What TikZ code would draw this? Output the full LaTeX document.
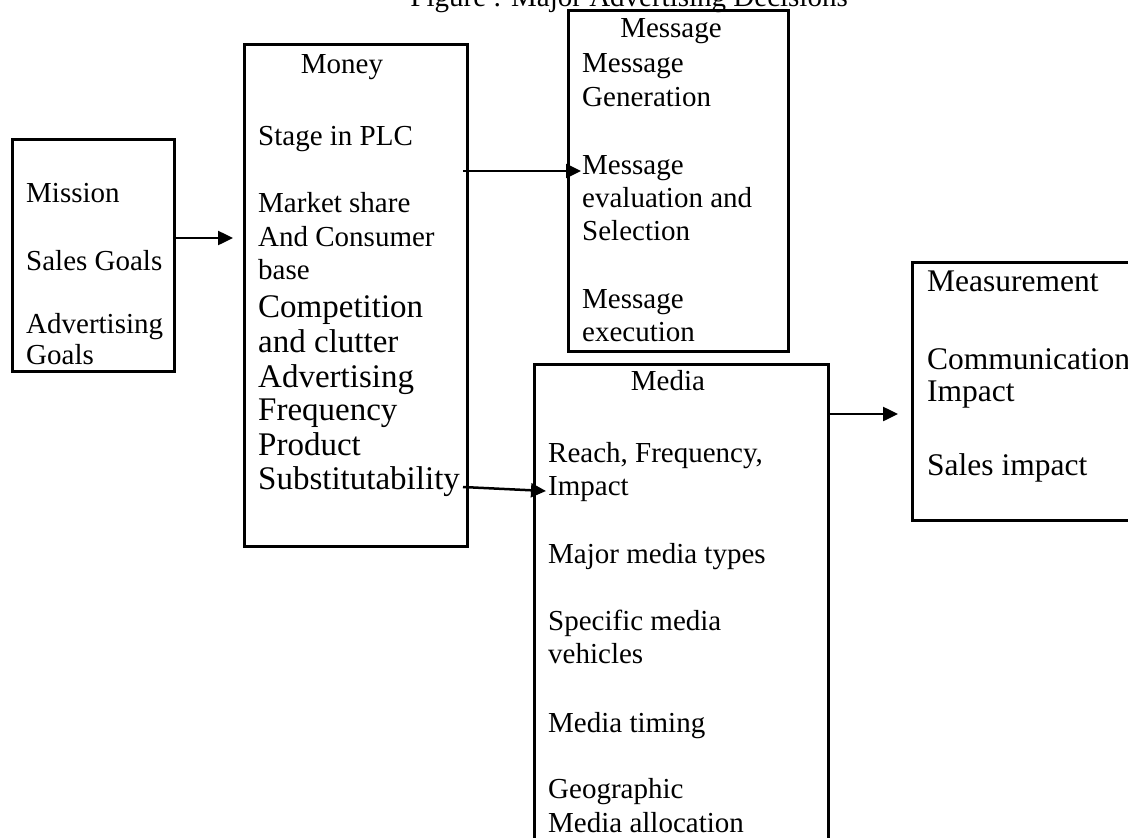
\documentclass[tikz,border=0pt]{standalone}
\usepackage{fontspec}
\setmainfont{Liberation Serif}
\usetikzlibrary{arrows.meta}
\begin{document}
\begin{tikzpicture}[x=1pt,y=-1pt,
  box/.style={draw,line width=2.5pt,rectangle,inner sep=0pt,anchor=north west},
  txt/.style={anchor=base west,inner sep=0pt,font=\fontsize{29}{33}\selectfont},
  big/.style={anchor=base west,inner sep=0pt,font=\fontsize{33}{36}\selectfont},
  wide/.style={anchor=base west,inner sep=0pt,font=\fontsize{31.5}{35}\selectfont},
  head/.style={anchor=base,inner sep=0pt,font=\fontsize{29}{33}\selectfont},
  arr/.style={line width=2.5pt,-{Triangle[length=15pt,width=14pt]}}]
\useasboundingbox (0,0) rectangle (1128,838);
\clip (0,0) rectangle (1128,838);

% heading, cut by the top edge
\node[anchor=base east,inner sep=0pt,font=\fontsize{29}{33}\selectfont] (title) at (848,6) {Figure : Major Advertising Decisions};

% boxes
\node[box,minimum width=162pt,minimum height=232pt] (mission) at (11,138) {};
\node[box,minimum width=223pt,minimum height=502pt] (money) at (243,43) {};
\node[box,minimum width=220pt,minimum height=341pt] (message) at (567,9) {};
\node[box,minimum width=294pt,minimum height=600pt] (media) at (533,363) {};
\node[box,minimum width=300pt,minimum height=258pt] (measure) at (911,261) {};

% objectives
\node[txt] (mi1) at (26,202) {Mission};
\node[txt] (mi2) at (26,270) {Sales Goals};
\node[txt] (mi3) at (26,333) {Advertising};
\node[txt] (mi4) at (26,364) {Goals};

% budget
\node[head] (mo0) at (342,73) {Money};
\node[txt] (mo1) at (258,145) {Stage in PLC};
\node[txt] (mo2) at (258,212) {Market share};
\node[txt] (mo3) at (258,246) {And Consumer};
\node[txt] (mo4) at (258,279) {base};
\node[big] (mo5) at (258,317) {Competition};
\node[big] (mo6) at (258,352) {and clutter};
\node[big] (mo7) at (258,387) {Advertising};
\node[big] (mo8) at (258,420) {Frequency};
\node[big] (mo9) at (258,455) {Product};
\node[big] (mo10) at (258,489) {Substitutability};

% message
\node[head] (me0) at (671,37) {Message};
\node[txt] (me1) at (582,72) {Message};
\node[txt] (me2) at (582,106) {Generation};
\node[txt] (me3) at (582,174) {Message};
\node[txt] (me4) at (582,207) {evaluation and};
\node[txt] (me5) at (582,240) {Selection};
\node[txt] (me6) at (582,308) {Message};
\node[txt] (me7) at (582,341) {execution};

% media
\node[head] (md0) at (668,390) {Media};
\node[txt] (md1) at (548,462) {Reach, Frequency,};
\node[txt] (md2) at (548,495) {Impact};
\node[txt] (md3) at (548,563) {Major media types};
\node[txt] (md4) at (548,630) {Specific media};
\node[txt] (md5) at (548,663) {vehicles};
\node[txt] (md6) at (548,732) {Media timing};
\node[txt] (md7) at (548,798) {Geographic};
\node[txt] (md8) at (548,832) {Media allocation};

% measurement
\node[wide] (ms1) at (927,291) {Measurement};
\node[wide] (ms2) at (927,369) {Communication};
\node[wide] (ms3) at (927,401) {Impact};
\node[wide] (ms4) at (927,475) {Sales impact};

% connectors
\coordinate (c1) at (173,238);
\coordinate (c2) at (233,238);
\coordinate (c3) at (463,171);
\coordinate (c4) at (581,171);
\coordinate (c5) at (463,487);
\coordinate (c6) at (546,491);
\coordinate (c7) at (827,414);
\coordinate (c8) at (898,414);
\draw[arr] (c1) -- (c2);
\draw[arr] (c3) -- (c4);
\draw[arr] (c5) -- (c6);
\draw[arr] (c7) -- (c8);
\end{tikzpicture}
\end{document}
